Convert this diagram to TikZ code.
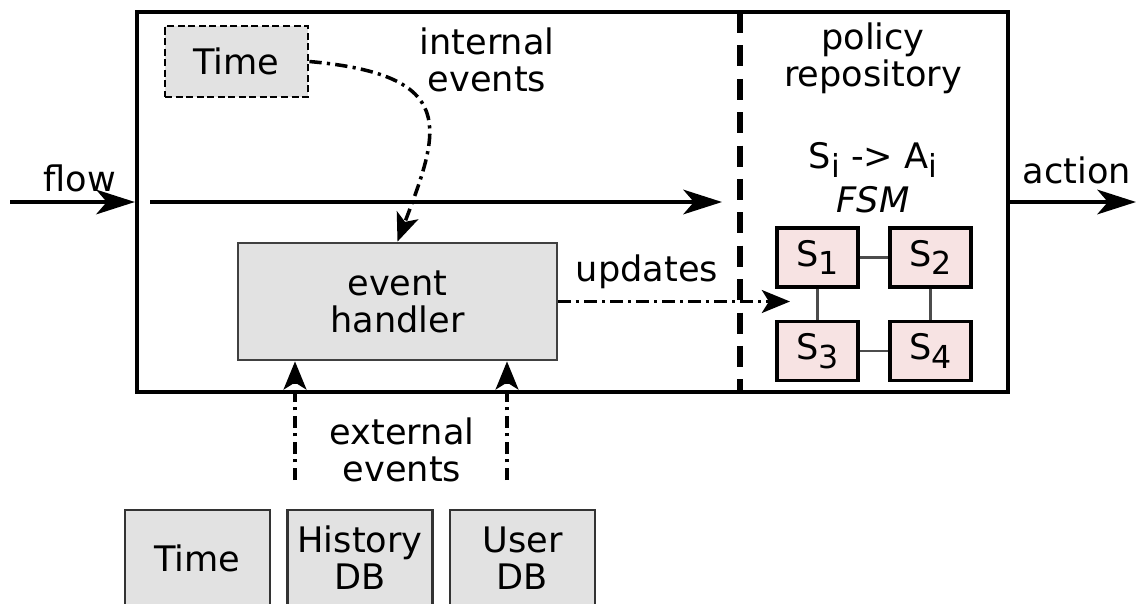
\documentclass[tikz,border=0pt]{standalone}
\usepackage{fontspec}
\setmainfont{DejaVu Sans}
\usetikzlibrary{arrows.meta}
\newcommand\lowsub[1]{\raisebox{-0.45ex}{\fontsize{9}{9}\selectfont #1}}
\definecolor{boxgray}{HTML}{E2E2E2}
\definecolor{statepink}{HTML}{F7E3E3}
\begin{document}
\begin{tikzpicture}[font=\fontsize{10}{10.5}\selectfont,
	txt/.style = {inner sep=0pt, align=center},
	graybox/.style = {draw=black!80, line width=0.6pt, fill=boxgray, align=center, inner sep=0pt},
	statebox/.style = {draw, line width=1.1pt, fill=statepink, minimum width=0.81cm, minimum height=0.59cm, inner sep=0pt},
	dashdot/.style = {line width=1pt, dash pattern=on 3.5pt off 1.5pt on 0.9pt off 1.5pt},
	bigtip/.style = {-{Stealth[length=11pt,width=7pt,inset=3pt]}},
	smalltip/.style = {-{Stealth[length=8pt,width=6.5pt,inset=2pt]}}]
	\useasboundingbox (0,0) rectangle (11.38,-6.03);
	\clip (0,0) rectangle (11.38,-6.03);
	% main box and divider
	\node [draw, line width=1.2pt, minimum width=8.71cm, minimum height=3.8cm, inner sep=0pt] (core) at (5.725,-2.02) {};
	\coordinate (divtop) at (7.4,-0.12);
	\coordinate (divbot) at (7.4,-3.92);
	\draw [line width=1.5pt, dash pattern=on 6pt off 3.5pt] (divtop) -- (divbot);
	% flow in, flow through, action out
	\coordinate (flowin) at (0.1,-2.02);
	\draw [line width=1.1pt, bigtip] (flowin) -- (core.west);
	\node [txt] (flowlbl) at (0.8,-1.78) {flow};
	\coordinate (lanestart) at (1.5,-2.02);
	\coordinate (laneend) at (7.22,-2.02);
	\draw [line width=1.1pt, bigtip] (lanestart) -- (laneend);
	\coordinate (actout) at (11.36,-2.02);
	\draw [line width=1.1pt, bigtip] (core.east) -- (actout);
	\node [txt] (actlbl) at (10.77,-1.7) {action};
	% internal events
	\node [graybox, draw=black, line width=0.8pt, dash pattern=on 2pt off 1pt, minimum width=1.43cm, minimum height=0.71cm] (clockin) at (2.365,-0.615) {Time};
	\node [txt] (intlbl) at (4.87,-0.6) {internal\\events};
	\node [graybox, draw=black!75, line width=0.8pt, minimum width=3.19cm, minimum height=1.17cm] (evh) at (3.975,-3.015) {event\\handler};
	\draw [dashdot, smalltip] (clockin.east) .. controls (4.6,-0.75) and (4.4,-1.3) .. (evh.north);
	% updates to the policy repository
	\coordinate (updend) at (7.9,-3.015);
	\draw [dashdot, smalltip] (evh.east) -- (updend);
	\node [txt] (updlbl) at (6.47,-2.72) {updates};
	\node [txt] (repolbl) at (8.73,-0.58) {policy\\repository};
	\node [txt] (rulelbl) at (8.73,-1.6) {S\lowsub{i} -> A\lowsub{i}};
	\node [txt, font=\fontsize{10}{10.5}\selectfont\itshape] (fsmlbl) at (8.73,-2.0) {FSM};
	\node [statebox] (s1) at (8.175,-2.575) {S\lowsub{1}};
	\node [statebox] (s2) at (9.305,-2.575) {S\lowsub{2}};
	\node [statebox] (s3) at (8.175,-3.51) {S\lowsub{3}};
	\node [statebox] (s4) at (9.305,-3.51) {S\lowsub{4}};
	\draw [black!70, line width=0.6pt] (s1) -- (s2) (s1) -- (s3) (s2) -- (s4) (s3) -- (s4);
	% external events
	\node [graybox, minimum width=1.45cm, minimum height=0.96cm] (clockext) at (1.975,-5.58) {Time};
	\node [graybox, minimum width=1.45cm, minimum height=0.96cm] (histdb) at (3.6,-5.58) {History\\DB};
	\node [graybox, minimum width=1.45cm, minimum height=0.96cm] (userdb) at (5.225,-5.58) {User\\DB};
	\coordinate (extA) at (2.95,-4.8);
	\coordinate (extB) at (5.07,-4.8);
	\draw [dashdot, smalltip] (extA) -- (extA |- evh.south);
	\draw [dashdot, smalltip] (extB) -- (extB |- evh.south);
	\node [txt] (extlbl) at (4.02,-4.5) {external\\events};
\end{tikzpicture}
\end{document}
